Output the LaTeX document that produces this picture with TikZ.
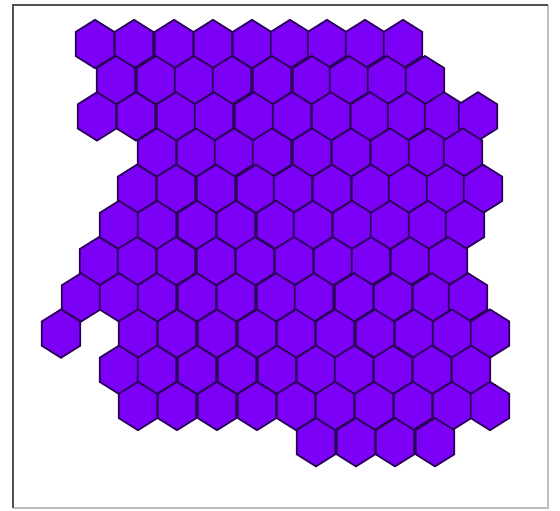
\documentclass[tikz,border=0pt]{standalone}
\definecolor{hexfill}{RGB}{123,0,245}
\definecolor{hexedge}{RGB}{40,0,85}
\definecolor{frameline}{RGB}{80,80,80}
\definecolor{framelight}{RGB}{190,190,190}
\begin{document}
\begin{tikzpicture}[x=1pt,y=-1pt,
  hexcell/.style={fill=hexfill, draw=hexedge, line width=1.7pt, line join=miter},
  framedark/.style={draw=frameline, line width=1.6pt},
  framesoft/.style={draw=framelight, line width=1.2pt}]
\useasboundingbox (0,0) rectangle (560,511);
\fill[white] (0,0) rectangle (560,511);
\draw[framesoft] (13,508) -- (548,508) -- (548,5);
\draw[framedark] (13,508) -- (13,5) -- (548,5);
\foreach \yy/\xs in {
  44/{95,134,174,213,252,290,327,365,403},
  80.2/{116,156,194,232,272,312,349,387,425},
  116.4/{97,136,176,214,254,292,331,370,407,444,478},
  152.6/{157,196,234,272,312,351,390,428,463},
  188.8/{137,176,216,256,293,332,371,408,446,483},
  225/{119,157,197,236,276,313,352,390,428,465},
  261.2/{99,137,176,216,255,294,333,371,410,448},
  297.4/{81,119,157,197,236,276,314,354,393,432,468},
  333.6/{61,138,177,217,257,296,335,375,414,452,490},
  369.8/{119,157,197,237,277,316,354,393,432,471},
  406/{138,177,217,257,296,335,374,413,452,490},
  442.2/{316,356,395,435}} {
  \foreach \xx in \xs {
    \draw[hexcell] (\xx,\yy) ++(0,-24.2) -- ++(19.3,12.1) -- ++(0,24.2)
      -- ++(-19.3,12.1) -- ++(-19.3,-12.1) -- ++(0,-24.2) -- cycle;
  }
}
\end{tikzpicture}
\end{document}
